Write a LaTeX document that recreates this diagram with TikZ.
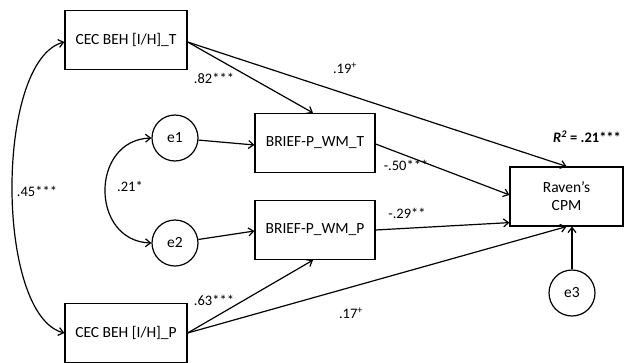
\documentclass[tikz,border=0pt]{standalone}
\usepackage{fontspec}
\setmainfont{Carlito}
\usetikzlibrary{arrows.meta}
\begin{document}
\begin{tikzpicture}[x=1pt,y=-1pt,
  box/.style={draw,line width=1.2pt,minimum width=#1,minimum height=59pt,inner sep=0pt,align=center,font=\fontsize{15.5}{18}\selectfont},
  box/.default=122pt,
  err/.style={draw,circle,line width=1.2pt,minimum size=46pt,inner sep=0pt,font=\fontsize{15.5}{18}\selectfont},
  path/.style={line width=1.2pt,-{Straight Barb[length=5pt,width=8pt]}},
  cov/.style={line width=1.2pt,{Straight Barb[length=5pt,width=8pt]}-{Straight Barb[length=5pt,width=8pt]}},
  lab/.style={font=\fontsize{14.5}{16}\selectfont,inner sep=0pt}]
\useasboundingbox (0,0) rectangle (624,362);
\node[box] (cect) at (126,40) {CEC BEH [I/H]\_T};
\node[box] (cecp) at (126,333) {CEC BEH [I/H]\_P};
\node[box=120pt] (bt) at (315,143) {BRIEF-P\_WM\_T};
\node[box=120pt] (bp) at (315,230) {BRIEF-P\_WM\_P};
\node[box=113pt] (rav) at (566.5,196.5) {Raven’s\\CPM};
\node[err] (e1) at (175,138) {e1};
\node[err] (e2) at (175,243) {e2};
\node[err] (e3) at (572,293) {e3};
\coordinate (ct) at ([yshift=-2pt]cect.east);
\coordinate (cp) at (cecp.east);
\draw[path] (ct) -- ([xshift=-2pt]bt.north);
\draw[path] (ct) -- (rav.north);
\draw[path] (e1) -- ([yshift=-2pt]bt.west);
\draw[path] (e2) -- ([yshift=-1pt]bp.west);
\draw[path] ([yshift=-1pt]bt.east) -- ([yshift=-28.5pt]rav.north west);
\draw[path] (bp.east) -- ([yshift=4pt]rav.south west);
\draw[path] (cp) -- ([xshift=-2pt]bp.south);
\draw[path] (cp) -- (rav.south);
\draw[path] (e3) -- (e3 |- rav.south);
\draw[cov] ([yshift=-2pt]cect.west) .. controls (-5,60) and (-5,315) .. (cecp.west);
\draw[cov] (e1.west) .. controls (90,140) and (90,241) .. (e2.west);
\node[lab] at (214,78) {.82***};
\node[lab] at (345,68) {.19\textsuperscript{+}};
\node[lab] at (587,137) {\textbf{\textit{R\textsuperscript{2}}} \textbf{= .21***}};
\node[lab] at (406,165) {-.50***};
\node[lab] at (130,186) {.21*};
\node[lab] at (37,191) {.45***};
\node[lab] at (407,213) {-.29**};
\node[lab] at (214,300) {.63***};
\node[lab] at (351,313) {.17\textsuperscript{+}};
\end{tikzpicture}
\end{document}
